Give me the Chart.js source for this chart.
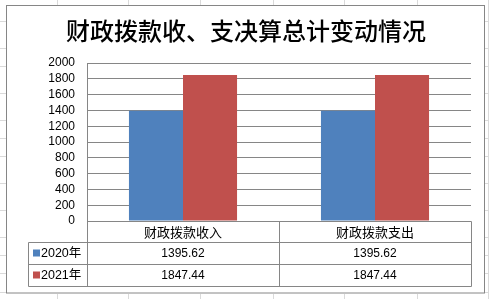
<!DOCTYPE html>
<html>
<head>
<meta charset="utf-8">
<script src="https://cdn.jsdelivr.net/npm/chart.js@4"></script>
<style>
  html, body { margin: 0; padding: 0; background: #fff; }
  canvas { display: block; }
</style>
</head>
<body>
<canvas id="grafico" width="489" height="299"></canvas>
<script>
// dados
const titulo = "财政拨款收、支决算总计变动情况";
const categorias = ["财政拨款收入", "财政拨款支出"];
const series = ["2020年", "2021年"];
const valores2020 = [1395.62, 1395.62];
const valores2021 = [1847.44, 1847.44];
const eixoMax = 2000;
const eixoPasso = 200;

const cores = ["#4F81BD", "#C0504D"];
const cinza = "#868686";

// linhas da planilha atrás do gráfico
const linhasPlanilhaY = [21, 48, 66, 93, 120, 138, 156, 183, 210, 237, 255, 273, 292];
const linhasPlanilhaX = [57, 128, 200, 273, 344, 417, 488];

const fundoPlugin = {
  id: "fundo",
  beforeDraw(chart) {
    const ctx = chart.ctx;
    ctx.save();
    ctx.fillStyle = "#fff";
    ctx.fillRect(0, 0, chart.width, chart.height);
    ctx.strokeStyle = "#dadada";
    ctx.lineWidth = 1;
    linhasPlanilhaY.forEach(y => {
      ctx.beginPath(); ctx.moveTo(0, y + 0.5); ctx.lineTo(chart.width, y + 0.5); ctx.stroke();
    });
    linhasPlanilhaX.forEach(x => {
      ctx.beginPath(); ctx.moveTo(x + 0.5, 0); ctx.lineTo(x + 0.5, chart.height); ctx.stroke();
    });
    // área do gráfico
    ctx.fillStyle = "#fff";
    ctx.fillRect(6, 5, 479, 289);
    ctx.strokeStyle = cinza;
    ctx.strokeRect(6.5, 5.5, 478, 287.5);

    // título
    ctx.fillStyle = "#000";
    ctx.font = "500 24px 'Noto Sans CJK SC'";
    ctx.textAlign = "center";
    ctx.textBaseline = "middle";
    ctx.fillText(titulo, 246, 31);
    ctx.restore();
  }
};

// tabela de dados abaixo do eixo
const tabelaPlugin = {
  id: "tabela",
  afterDraw(chart) {
    const ctx = chart.ctx;
    const area = chart.chartArea;
    const x = chart.scales.x;
    const esq = 28.5, topo = Math.round(area.bottom) + 0.5;
    const dir = Math.round(area.right) + 0.5;
    const eixo = Math.round(area.left) + 0.5;
    const linhas = [topo, topo + 21, topo + 43, topo + 65];

    ctx.save();
    ctx.strokeStyle = cinza;
    ctx.lineWidth = 1;
    ctx.beginPath();
    ctx.moveTo(eixo, area.top); ctx.lineTo(eixo, linhas[3]);
    ctx.moveTo(eixo, topo); ctx.lineTo(dir, topo);
    for (let i = 1; i < 4; i++) { ctx.moveTo(esq, linhas[i]); ctx.lineTo(dir, linhas[i]); }
    ctx.moveTo(esq, linhas[1]); ctx.lineTo(esq, linhas[3]);
    ctx.moveTo(dir, topo); ctx.lineTo(dir, linhas[3]);
    for (let i = 1; i < categorias.length; i++) {
      const xd = Math.round((x.getPixelForValue(i - 1) + x.getPixelForValue(i)) / 2) + 0.5;
      ctx.moveTo(xd, topo); ctx.lineTo(xd, linhas[3]);
    }
    ctx.stroke();

    ctx.fillStyle = "#000";
    ctx.textAlign = "center";
    ctx.textBaseline = "middle";
    ctx.font = "13px 'Noto Sans CJK SC'";
    categorias.forEach((c, i) => ctx.fillText(c, x.getPixelForValue(i), (linhas[0] + linhas[1]) / 2));

    const dados = [valores2020, valores2021];
    ctx.font = "12px 'Liberation Sans'";
    dados.forEach((vals, s) => {
      const ym = (linhas[s + 1] + linhas[s + 2]) / 2;
      vals.forEach((v, i) => ctx.fillText(v.toFixed(2), x.getPixelForValue(i), ym));
    });

    // legenda
    ctx.textAlign = "left";
    ctx.font = "12.5px 'Liberation Sans', 'Noto Sans CJK SC'";
    series.forEach((nome, s) => {
      const ym = (linhas[s + 1] + linhas[s + 2]) / 2;
      ctx.fillStyle = cores[s];
      ctx.fillRect(33, ym - 4, 7, 7);
      ctx.fillStyle = "#000";
      ctx.fillText(nome, 41, ym);
    });
    ctx.restore();
  }
};

new Chart(document.getElementById("grafico"), {
  type: "bar",
  data: {
    labels: categorias,
    datasets: [
      { label: series[0], data: valores2020, backgroundColor: cores[0] },
      { label: series[1], data: valores2021, backgroundColor: cores[1] }
    ]
  },
  options: {
    responsive: false,
    animation: false,
    devicePixelRatio: 1,
    layout: { padding: { left: 0, right: 18, top: 63, bottom: 78 } },
    datasets: { bar: { categoryPercentage: 0.563, barPercentage: 1 } },
    plugins: {
      legend: { display: false },
      tooltip: { enabled: false }
    },
    scales: {
      x: { display: false },
      y: {
        min: 0,
        max: eixoMax,
        afterFit(scale) { scale.width = 87; },
        ticks: {
          stepSize: eixoPasso,
          autoSkip: false,
          padding: 12,
          color: "#000",
          font: { family: "Liberation Sans", size: 12 },
          callback: v => String(v)
        },
        grid: { color: cinza, drawTicks: false },
        border: { display: true, color: cinza }
      }
    }
  },
  plugins: [fundoPlugin, tabelaPlugin]
});
</script>
</body>
</html>
